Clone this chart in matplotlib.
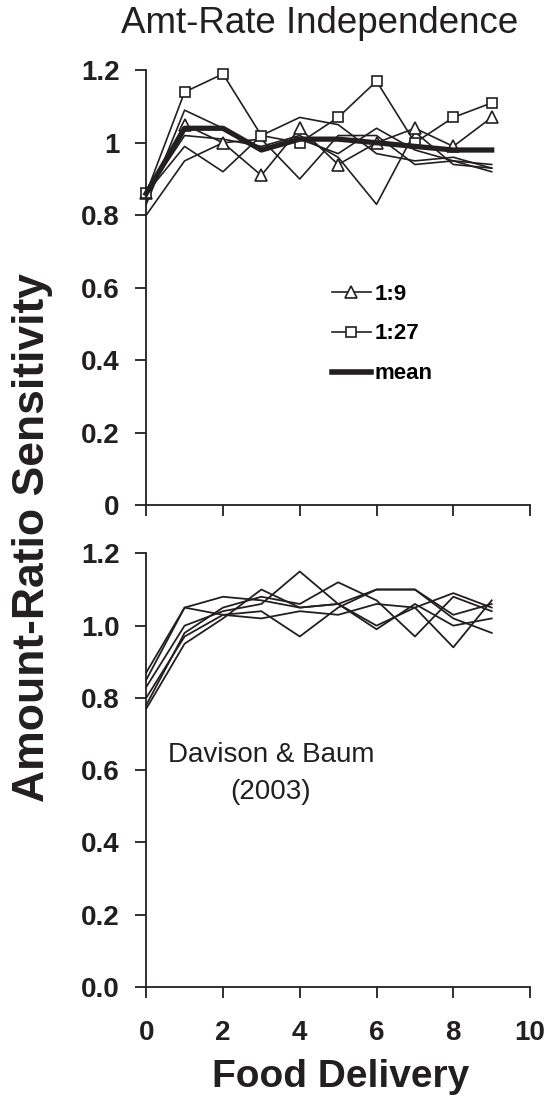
import numpy as np
import matplotlib.pyplot as plt
from matplotlib.lines import Line2D

# sessions / food deliveries
deliveries = np.arange(10)

# top panel: Amt-Rate Independence
top_tri = [0.86, 1.05, 1.00, 0.91, 1.04, 0.94, 1.00, 1.04, 0.99, 1.07]
top_sq = [0.86, 1.14, 1.19, 1.02, 1.00, 1.07, 1.17, 1.00, 1.07, 1.11]
top_mean = [0.86, 1.04, 1.04, 0.98, 1.01, 1.01, 1.00, 0.99, 0.98, 0.98]
top_others = [
    [0.83, 1.09, 1.04, 0.98, 1.01, 0.97, 1.04, 0.98, 0.95, 0.94],
    [0.86, 0.99, 0.92, 1.02, 1.07, 1.05, 0.97, 0.95, 0.96, 0.93],
    [0.80, 0.95, 1.00, 1.01, 0.90, 1.02, 1.02, 0.94, 0.95, 0.92],
    [0.86, 1.02, 1.01, 0.99, 1.02, 0.96, 0.83, 1.03, 0.94, 0.93],
]

# bottom panel: Davison & Baum (2003)
bottom_lines = [
    [0.87, 1.05, 1.08, 1.07, 1.05, 1.06, 1.10, 1.10, 1.03, 1.06],
    [0.77, 0.95, 1.02, 1.10, 1.05, 1.06, 1.00, 1.05, 1.09, 1.05],
    [0.83, 1.00, 1.04, 1.06, 1.15, 1.06, 0.99, 1.06, 1.00, 1.02],
    [0.80, 0.97, 1.03, 1.04, 0.97, 1.05, 1.10, 1.10, 1.02, 0.98],
    [0.78, 0.98, 1.05, 1.08, 1.06, 1.12, 1.07, 0.97, 1.08, 1.04],
    [0.85, 1.05, 1.03, 1.02, 1.04, 1.03, 1.06, 1.05, 0.94, 1.07],
]

top_yticks = [0, 0.2, 0.4, 0.6, 0.8, 1, 1.2]
top_ylabels = ['0', '0.2', '0.4', '0.6', '0.8', '1', '1.2']
bottom_ylabels = ['0.0', '0.2', '0.4', '0.6', '0.8', '1.0', '1.2']
xticks = [0, 2, 4, 6, 8, 10]

plt.rcParams['font.family'] = ['Liberation Sans', 'DejaVu Sans']
ink = '#231f20'

fig = plt.figure(figsize=(5.58, 11.09), dpi=100)
ax0 = fig.add_axes([0.262, 0.5446, 0.688, 0.392])
ax1 = fig.add_axes([0.262, 0.110, 0.688, 0.391])


def style(ax, ylabels, show_x):
    for s in ['top', 'right']:
        ax.spines[s].set_visible(False)
    for s in ['left', 'bottom']:
        ax.spines[s].set_linewidth(1.3)
        ax.spines[s].set_color(ink)
    ax.set_xlim(0, 10)
    ax.set_ylim(0, 1.2)
    ax.set_xticks(xticks)
    ax.set_yticks(top_yticks)
    ax.set_yticklabels(ylabels, fontsize=20, fontweight='bold', color=ink)
    ax.tick_params(axis='both', direction='out', length=8, width=1.3, color=ink)
    ax.tick_params(axis='y', pad=11)
    if show_x:
        ax.set_xticklabels([str(t) for t in xticks], fontsize=20,
                           fontweight='bold', color=ink)
        ax.tick_params(axis='x', pad=16)
    else:
        ax.set_xticklabels([])


for ys in top_others:
    ax0.plot(deliveries, ys, color=ink, lw=1.2, clip_on=False)
ax0.plot(deliveries, top_tri, color=ink, lw=1.2, marker='^', ms=8,
         mfc='white', mec=ink, mew=1.2, clip_on=False)
ax0.plot(deliveries, top_sq, color=ink, lw=1.2, marker='s', ms=7,
         mfc='white', mec=ink, mew=1.2, clip_on=False)
ax0.plot(deliveries, top_mean, color=ink, lw=3.8, clip_on=False)
style(ax0, top_ylabels, False)

handles = [
    Line2D([], [], color=ink, lw=1.2, marker='^', ms=8, mfc='white', mew=1.2),
    Line2D([], [], color=ink, lw=1.2, marker='s', ms=7, mfc='white', mew=1.2),
    Line2D([], [], color=ink, lw=4),
]
ax0.legend(handles, ['1:9', '1:27', 'mean'], loc='upper left',
           bbox_to_anchor=(0.455, 0.535), frameon=False, borderpad=0,
           handlelength=1.75, handletextpad=0.15, labelspacing=0.85,
           prop={'weight': 'bold', 'size': 16})

for ys in bottom_lines:
    ax1.plot(deliveries, ys, color=ink, lw=1.3, clip_on=False)
style(ax1, bottom_ylabels, True)
ax1.text(3.25, 0.59, 'Davison & Baum\n(2003)', ha='center', va='center',
         fontsize=20, color=ink, linespacing=1.55)

fig.text(0.572, 0.979, 'Amt-Rate Independence', ha='center', va='center',
         fontsize=26.5, color=ink)
fig.text(0.058, 0.515, 'Amount-Ratio Sensitivity', rotation=90, ha='center',
         va='center', fontsize=32, fontweight='bold', color=ink)
fig.text(0.611, 0.029, 'Food Delivery', ha='center', va='center',
         fontsize=28, fontweight='bold', color=ink)

fig.savefig('out.png', dpi=100)
